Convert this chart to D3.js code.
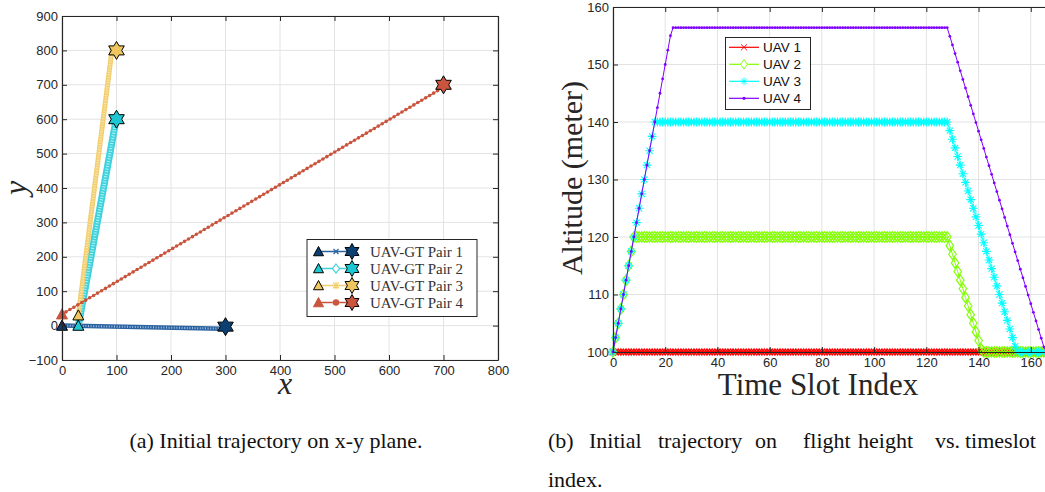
<!DOCTYPE html>
<html><head><meta charset="utf-8">
<script src="https://cdn.jsdelivr.net/npm/d3@7"></script>
<style>
html,body{margin:0;padding:0;background:#fff;overflow:hidden}
svg{display:block}
</style></head>
<body>
<script>
// ---------------- DATA ----------------
// Left chart (x-y plane): UAV start, trajectory end, GT position
const pairNames = ["UAV-GT Pair 1","UAV-GT Pair 2","UAV-GT Pair 3","UAV-GT Pair 4"];
const uavStart = [[0,0],[30,0],[30,30],[0,33]];
const trajEnd  = [[296,-9],[98,588],[92,805],[697,690]];
const gtPos    = [[300,-3],[100,600],[100,800],[700,700]];
const xTicksL = [0,100,200,300,400,500,600,700,800];
const yTicksL = [-100,0,100,200,300,400,500,600,700,800,900];

// Right chart (altitude vs time slot)
const uavNames = ["UAV 1","UAV 2","UAV 3","UAV 4"];
const timeSlots = d3.range(0,171);
const uav1Alt = [
100,100,100,100,100,100,100,100,100,100,
100,100,100,100,100,100,100,100,100,100,
100,100,100,100,100,100,100,100,100,100,
100,100,100,100,100,100,100,100,100,100,
100,100,100,100,100,100,100,100,100,100,
100,100,100,100,100,100,100,100,100,100,
100,100,100,100,100,100,100,100,100,100,
100,100,100,100,100,100,100,100,100,100,
100,100,100,100,100,100,100,100,100,100,
100,100,100,100,100,100,100,100,100,100,
100,100,100,100,100,100,100,100,100,100,
100,100,100,100,100,100,100,100,100,100,
100,100,100,100,100,100,100,100,100,100,
100,100,100,100,100,100,100,100,100,100,
100,100,100,100,100,100,100,100,100,100,
100,100,100,100,100,100,100,100,100,100,
100,100,100,100,100,100,100,100,100,100,
100];
const uav2Alt = [
100,102.5,105,107.5,110,112.5,115,117.5,120,
120,120,120,120,120,120,120,120,120,120,
120,120,120,120,120,120,120,120,120,120,
120,120,120,120,120,120,120,120,120,120,
120,120,120,120,120,120,120,120,120,120,
120,120,120,120,120,120,120,120,120,120,
120,120,120,120,120,120,120,120,120,120,
120,120,120,120,120,120,120,120,120,120,
120,120,120,120,120,120,120,120,120,120,
120,120,120,120,120,120,120,120,120,120,
120,120,120,120,120,120,120,120,120,120,
120,120,120,120,120,120,120,120,120,120,
120,120,120,120,120,120,120,120,120,120,
118.5,117,115.5,114,112.5,111,109.5,108,106.5,105,103.5,102,100.5,
100,100,100,100,100,100,100,100,100,100,
100,100,100,100,100,100,100,100,100,100,
100,100,100,100,100,100,100,100,100];
const uav3Alt = [
100,102.5,105,107.5,110,112.5,115,117.5,120,122.5,125,127.5,130,132.5,135,137.5,140,
140,140,140,140,140,140,140,140,140,140,
140,140,140,140,140,140,140,140,140,140,
140,140,140,140,140,140,140,140,140,140,
140,140,140,140,140,140,140,140,140,140,
140,140,140,140,140,140,140,140,140,140,
140,140,140,140,140,140,140,140,140,140,
140,140,140,140,140,140,140,140,140,140,
140,140,140,140,140,140,140,140,140,140,
140,140,140,140,140,140,140,140,140,140,
140,140,140,140,140,140,140,140,140,140,
140,140,140,140,140,140,140,140,140,140,
140,140,
138.5,137,135.5,134,132.5,131,129.5,128,126.5,125,123.5,122,120.5,
119,117.5,116,114.5,113,111.5,110,108.5,107,105.5,104,102.5,101,
100,100,100,100,100,100,100,100,100,100,
100,100,100,100,100,100];
const uav4Alt = [
100,102.5,105,107.5,110,112.5,115,117.5,120,122.5,125,127.5,130,132.5,135,137.5,140,142.5,145,147.5,150,152.5,155,
156.4,156.4,156.4,156.4,156.4,156.4,156.4,156.4,156.4,156.4,
156.4,156.4,156.4,156.4,156.4,156.4,156.4,156.4,156.4,156.4,
156.4,156.4,156.4,156.4,156.4,156.4,156.4,156.4,156.4,156.4,
156.4,156.4,156.4,156.4,156.4,156.4,156.4,156.4,156.4,156.4,
156.4,156.4,156.4,156.4,156.4,156.4,156.4,156.4,156.4,156.4,
156.4,156.4,156.4,156.4,156.4,156.4,156.4,156.4,156.4,156.4,
156.4,156.4,156.4,156.4,156.4,156.4,156.4,156.4,156.4,156.4,
156.4,156.4,156.4,156.4,156.4,156.4,156.4,156.4,156.4,156.4,
156.4,156.4,156.4,156.4,156.4,156.4,156.4,156.4,156.4,156.4,
156.4,156.4,156.4,156.4,156.4,156.4,156.4,156.4,156.4,156.4,
156.4,156.4,156.4,156.4,156.4,156.4,
154.9,153.4,151.9,150.4,148.9,147.4,145.9,144.4,142.9,141.4,
139.9,138.4,136.9,135.4,133.9,132.4,130.9,129.4,127.9,126.4,
124.9,123.4,121.9,120.4,118.9,117.4,115.9,114.4,112.9,111.4,
109.9,108.4,106.9,105.4,103.9,102.4,100.9,
100,100,100,100,100];
const xTicksR = [0,20,40,60,80,100,120,140,160,180];
const yTicksR = [100,110,120,130,140,150,160];

// ---------------- STYLES ----------------
const pairColors = ["#0c3f72","#1dc7d1","#efc75e","#c9553e"];
const pairLine   = ["#2c62a0","#3fd2dc","#f2cf72","#c9553e"];
const pairTex    = ["#9dbde0","#b6f3f7","#fbe9b5",null];
const uavColors = ["#ff0000","#80ff00","#00ffff","#8000ff"];
const axisCol = "#262626", gridCol = "#e3e3e3";

const W = 1045, H = 492;
const svg = d3.select("body").append("svg").attr("width",W).attr("height",H);

function hexagram(R){
  const r = R/Math.sqrt(3), p=[];
  for(let k=0;k<12;k++){const a=-Math.PI/2+k*Math.PI/6, rr=k%2?r:R; p.push([rr*Math.cos(a),rr*Math.sin(a)]);}
  return "M"+p.map(d=>d[0].toFixed(2)+","+d[1].toFixed(2)).join("L")+"Z";
}
function triangle(s){ return `M0,${-s}L${s},${s*0.85}L${-s},${s*0.85}Z`; }

function drawFrame(g, x, y, xt, yt, box){
  g.append("g").selectAll("line").data(xt).join("line")
    .attr("x1",d=>x(d)).attr("x2",d=>x(d)).attr("y1",box.top).attr("y2",box.bottom)
    .attr("stroke",gridCol).attr("stroke-width",1);
  g.append("g").selectAll("line").data(yt).join("line")
    .attr("x1",box.left).attr("x2",box.right).attr("y1",d=>y(d)).attr("y2",d=>y(d))
    .attr("stroke",gridCol).attr("stroke-width",1);
}
function drawAxes(g, x, y, xt, yt, box, fs){
  const style = sel=>{
    sel.select(".domain").attr("stroke",axisCol).attr("stroke-width",1.2);
    sel.selectAll(".tick line").attr("stroke",axisCol);
    sel.selectAll("text").attr("fill",axisCol).attr("font-size",fs)
      .attr("font-family","'Liberation Sans', Arial, Helvetica, sans-serif");
  };
  g.append("g").attr("transform",`translate(0,${box.bottom})`)
    .call(d3.axisBottom(x).tickValues(xt).tickSize(-5).tickSizeOuter(0).tickPadding(6)).call(style);
  g.append("g").attr("transform",`translate(0,${box.top})`)
    .call(d3.axisTop(x).tickValues(xt).tickSize(-5).tickSizeOuter(0).tickFormat("")).call(style);
  g.append("g").attr("transform",`translate(${box.left},0)`)
    .call(d3.axisLeft(y).tickValues(yt).tickSize(-5).tickSizeOuter(0).tickPadding(4)).call(style);
  g.append("g").attr("transform",`translate(${box.right},0)`)
    .call(d3.axisRight(y).tickValues(yt).tickSize(-5).tickSizeOuter(0).tickFormat("")).call(style);
}

// ================= LEFT CHART =================
const boxL = {left:62, right:498, top:16, bottom:360};
const xL = d3.scaleLinear().domain([0,800]).range([boxL.left, boxL.right]);
const yL = d3.scaleLinear().domain([-100,900]).range([boxL.bottom, boxL.top]);
const gL = svg.append("g");
drawFrame(gL, xL, yL, xTicksL, yTicksL, boxL);

const lineL = d3.line().x(d=>xL(d[0])).y(d=>yL(d[1]));
const bandW = [4.5, 7, 5, 1.2];
pairNames.forEach((n,i)=>{
  const seg = [uavStart[i], trajEnd[i]];
  gL.append("path").attr("d",lineL(seg)).attr("fill","none")
    .attr("stroke",pairLine[i]).attr("stroke-width",bandW[i]);
  if(pairTex[i]){
    gL.append("path").attr("d",lineL(seg)).attr("fill","none")
      .attr("stroke",pairTex[i]).attr("stroke-width",bandW[i]*0.45)
      .attr("stroke-dasharray","1 1.6");
  } else {
    gL.append("path").attr("d",lineL(seg)).attr("fill","none")
      .attr("stroke",pairColors[i]).attr("stroke-width",3.6)
      .attr("stroke-linecap","round").attr("stroke-dasharray","0 4.6");
  }
});
pairNames.forEach((n,i)=>{
  gL.append("path").attr("d",triangle(5.5))
    .attr("transform",`translate(${xL(uavStart[i][0])},${yL(uavStart[i][1])})`)
    .attr("fill",pairColors[i]).attr("stroke",i===3?pairColors[i]:"#000").attr("stroke-width",1);
  gL.append("path").attr("d",hexagram(9))
    .attr("transform",`translate(${xL(gtPos[i][0])},${yL(gtPos[i][1])})`)
    .attr("fill",pairColors[i]).attr("stroke","#000").attr("stroke-width",1);
});
drawAxes(gL, xL, yL, xTicksL, yTicksL, boxL, 13);

// legend left
const legL = gL.append("g");
legL.append("rect").attr("x",307).attr("y",239.5).attr("width",170).attr("height",77)
  .attr("fill","#fff").attr("stroke","#262626").attr("stroke-width",1);
pairNames.forEach((n,i)=>{
  const cy = 251.5 + i*17;
  legL.append("line").attr("x1",318).attr("x2",352).attr("y1",cy).attr("y2",cy)
    .attr("stroke",pairLine[i]).attr("stroke-width",1.3);
  if(i===0){
    legL.append("path").attr("d","M-2.5,-2.5L2.5,2.5M-2.5,2.5L2.5,-2.5").attr("transform",`translate(336,${cy})`)
      .attr("stroke",pairLine[i]).attr("stroke-width",1.2);
  } else if(i===1){
    legL.append("path").attr("d","M0,-4.5L3.5,0L0,4.5L-3.5,0Z").attr("transform",`translate(336,${cy})`)
      .attr("fill","#fff").attr("stroke",pairLine[i]).attr("stroke-width",1.2);
  } else if(i===2){
    legL.append("path").attr("d","M-4,0L4,0M0,-4L0,4M-3,-3L3,3M-3,3L3,-3").attr("transform",`translate(336,${cy})`)
      .attr("stroke",pairLine[i]).attr("stroke-width",1.2);
  } else {
    legL.append("circle").attr("cx",336).attr("cy",cy).attr("r",3.2).attr("fill",pairColors[i]);
  }
  legL.append("path").attr("d",triangle(5)).attr("transform",`translate(318.5,${cy})`)
    .attr("fill",pairColors[i]).attr("stroke",i===3?pairColors[i]:"#000").attr("stroke-width",1);
  legL.append("path").attr("d",hexagram(8)).attr("transform",`translate(352,${cy})`)
    .attr("fill",pairColors[i]).attr("stroke","#000").attr("stroke-width",1);
  legL.append("text").attr("x",370).attr("y",cy+5).text(n)
    .attr("font-family","'Liberation Serif', 'Times New Roman', serif").attr("font-size",15).attr("fill","#333");
});

// axis labels left
gL.append("text").attr("transform","translate(26,188) rotate(-90)").attr("text-anchor","middle")
  .attr("font-family","'Liberation Serif', serif").attr("font-style","italic").attr("font-size",32)
  .attr("fill","#262626").text("y");
gL.append("text").attr("x",285).attr("y",394).attr("text-anchor","middle")
  .attr("font-family","'Liberation Serif', serif").attr("font-style","italic").attr("font-size",32)
  .attr("fill","#262626").text("x");

// ================= RIGHT CHART =================
const boxR = {left:613, right:1083, top:7, bottom:352};
const xR = d3.scaleLinear().domain([0,180]).range([boxR.left, boxR.right]);
const yR = d3.scaleLinear().domain([100,160]).range([boxR.bottom, boxR.top]);
const gR = svg.append("g");
drawFrame(gR, xR, yR, xTicksR, yTicksR, boxR);

const series = [uav1Alt, uav2Alt, uav3Alt, uav4Alt];
const lineR = d3.line().x((d,i)=>xR(timeSlots[i])).y(d=>yR(d));
const markerPaths = [
  "M-3.3,-3.3L3.3,3.3M-3.3,3.3L3.3,-3.3",
  "M0,-5.3L3.8,0L0,5.3L-3.8,0Z",
  "M-4.4,0L4.4,0M0,-4.4L0,4.4M-3.1,-3.1L3.1,3.1M-3.1,3.1L3.1,-3.1",
  null
];
const markerSW = [1.3, 1.15, 1.1, 1];
series.forEach((s,k)=>{
  gR.append("path").attr("d",lineR(s)).attr("fill","none")
    .attr("stroke",uavColors[k]).attr("stroke-width",1);
  const mg = gR.append("g");
  if(markerPaths[k]){
    mg.selectAll("path").data(s).join("path").attr("d",markerPaths[k])
      .attr("transform",(d,i)=>`translate(${xR(timeSlots[i])},${yR(d)})`)
      .attr("fill","none").attr("stroke",uavColors[k]).attr("stroke-width",markerSW[k]);
  } else {
    mg.selectAll("circle").data(s).join("circle")
      .attr("cx",(d,i)=>xR(timeSlots[i])).attr("cy",d=>yR(d)).attr("r",1.4)
      .attr("fill",uavColors[k]);
  }
});
drawAxes(gR, xR, yR, xTicksR, yTicksR, boxR, 13);

// legend right
const legR = gR.append("g");
legR.append("rect").attr("x",725.5).attr("y",37.5).attr("width",85).attr("height",72)
  .attr("fill","#fff").attr("stroke","#262626").attr("stroke-width",1);
uavNames.forEach((n,k)=>{
  const cy = 47.3 + k*17;
  legR.append("line").attr("x1",729).attr("x2",759).attr("y1",cy).attr("y2",cy)
    .attr("stroke",uavColors[k]).attr("stroke-width",1.2);
  if(markerPaths[k]){
    legR.append("path").attr("d",markerPaths[k]).attr("transform",`translate(744,${cy}) scale(0.9)`)
      .attr("fill",k===1?"#fff":"none").attr("stroke",uavColors[k]).attr("stroke-width",1);
  } else {
    legR.append("circle").attr("cx",744).attr("cy",cy).attr("r",1.6).attr("fill",uavColors[k]);
  }
  legR.append("text").attr("x",763).attr("y",cy+5).text(n)
    .attr("font-family","'Liberation Sans', Arial, sans-serif").attr("font-size",13.5).attr("fill","#111");
});

gR.append("text").attr("transform","translate(582,178) rotate(-90)").attr("text-anchor","middle")
  .attr("font-family","'Liberation Serif', 'Times New Roman', serif").attr("font-size",30)
  .attr("fill","#262626").text("Altitude (meter)");
gR.append("text").attr("x",818).attr("y",395).attr("text-anchor","middle")
  .attr("font-family","'Liberation Serif', 'Times New Roman', serif").attr("font-size",31)
  .attr("fill","#262626").text("Time Slot Index");

// ================= CAPTIONS =================
const capFont = "'Liberation Serif', 'Times New Roman', serif";
svg.append("text").attr("x",276).attr("y",448).attr("text-anchor","middle")
  .attr("font-family",capFont).attr("font-size",22).attr("fill","#111")
  .text("(a) Initial trajectory on x-y plane.");
const capWords = ["(b)","Initial","trajectory","on","flight","height","vs.","timeslot"];
const capX = [548,589,658,755,803,858,935,965];
capWords.forEach((w,i)=>{
  svg.append("text").attr("x",capX[i]).attr("y",448)
    .attr("font-family",capFont).attr("font-size",22).attr("fill","#111").text(w);
});
svg.append("text").attr("x",548).attr("y",487)
  .attr("font-family",capFont).attr("font-size",22).attr("fill","#111").text("index.");
</script>
</body></html>
